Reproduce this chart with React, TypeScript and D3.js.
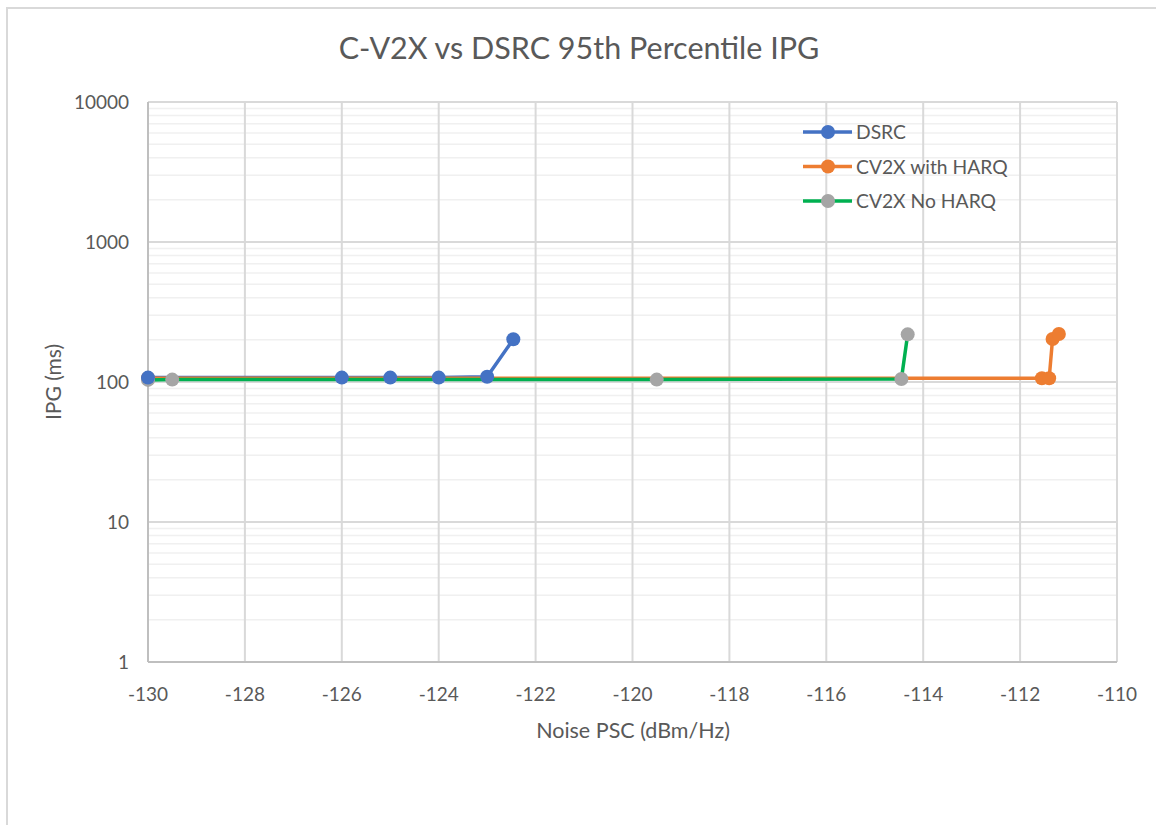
import React, { useEffect, useRef } from 'react';
import * as d3 from 'd3';

const W = 1156;
const H = 825;

const dsrcX = [-130, -126, -125, -124, -123, -122.46];
const dsrcY = [107.5, 107.5, 107.5, 107.5, 109, 202];

const harqX = [-130, -111.55, -111.4, -111.33, -111.2];
const harqY = [106.3, 106.3, 106.3, 203, 220];

const noHarqX = [-130, -129.5, -119.5, -114.45, -114.32];
const noHarqY = [103.5, 104, 104, 105, 219];

const xTicks = [-130, -128, -126, -124, -122, -120, -118, -116, -114, -112, -110];
const yTicks = [1, 10, 100, 1000, 10000];

const series = [
  { name: 'DSRC', xs: dsrcX, ys: dsrcY, line: '#4472C4', marker: '#4472C4' },
  { name: 'CV2X with HARQ', xs: harqX, ys: harqY, line: '#ED7D31', marker: '#ED7D31' },
  { name: 'CV2X No HARQ', xs: noHarqX, ys: noHarqY, line: '#00B050', marker: '#A5A5A5' },
];

const FONT = 'Lato, "Open Sans", sans-serif';
const TXT = '#595959';

const App = () => {
  const ref = useRef<SVGGElement>(null);

  useEffect(() => {
    const x = d3.scaleLinear().domain([-130, -110]).range([148, 1117]);
    const y = d3.scaleLog().domain([1, 10000]).range([662, 102]);

    const g = d3.select(ref.current);
    g.selectAll('*').remove();

    // minor horizontal grid
    const minor: number[] = [];
    for (let d = 1; d < 10000; d *= 10) {
      for (let k = 2; k <= 9; k++) minor.push(d * k);
    }
    g.append('g')
      .selectAll('line')
      .data(minor)
      .enter()
      .append('line')
      .attr('x1', x(-130))
      .attr('x2', x(-110))
      .attr('y1', (d) => y(d))
      .attr('y2', (d) => y(d))
      .attr('stroke', '#f0f0f0')
      .attr('stroke-width', 1.5);

    // major grid
    g.append('g')
      .selectAll('line')
      .data(yTicks.slice(1))
      .enter()
      .append('line')
      .attr('x1', x(-130))
      .attr('x2', x(-110))
      .attr('y1', (d) => y(d))
      .attr('y2', (d) => y(d))
      .attr('stroke', '#d9d9d9')
      .attr('stroke-width', 2);

    g.append('g')
      .selectAll('line')
      .data(xTicks.slice(1))
      .enter()
      .append('line')
      .attr('x1', (d) => x(d))
      .attr('x2', (d) => x(d))
      .attr('y1', y(1))
      .attr('y2', y(10000))
      .attr('stroke', '#d9d9d9')
      .attr('stroke-width', 2);

    // axis lines
    g.append('line')
      .attr('x1', x(-130)).attr('x2', x(-130))
      .attr('y1', y(1)).attr('y2', y(10000))
      .attr('stroke', '#bfbfbf').attr('stroke-width', 2);
    g.append('line')
      .attr('x1', x(-130)).attr('x2', x(-110))
      .attr('y1', y(1)).attr('y2', y(1))
      .attr('stroke', '#bfbfbf').attr('stroke-width', 2);

    // tick labels
    g.append('g')
      .selectAll('text')
      .data(yTicks)
      .enter()
      .append('text')
      .attr('x', 129)
      .attr('y', (d) => y(d) + 7)
      .attr('text-anchor', 'end')
      .attr('font-family', FONT)
      .attr('font-size', 19)
      .attr('fill', TXT)
      .text((d) => String(d));

    g.append('g')
      .selectAll('text')
      .data(xTicks)
      .enter()
      .append('text')
      .attr('x', (d) => x(d))
      .attr('y', 701)
      .attr('text-anchor', 'middle')
      .attr('font-family', FONT)
      .attr('font-size', 19)
      .attr('fill', TXT)
      .text((d) => String(d));

    // lines
    series.forEach((s) => {
      const pts = s.xs.map((v, i) => [x(v), y(s.ys[i])] as [number, number]);
      g.append('path')
        .attr('d', d3.line()(pts))
        .attr('fill', 'none')
        .attr('stroke', s.line)
        .attr('stroke-width', 3.5)
        .attr('stroke-linejoin', 'round');
    });

    // markers: orange, gray, then blue
    [series[1], series[2], series[0]].forEach((s) => {
      g.append('g')
        .selectAll('circle')
        .data(s.xs.map((v, i) => [v, s.ys[i]]))
        .enter()
        .append('circle')
        .attr('cx', (d) => x(d[0]))
        .attr('cy', (d) => y(d[1]))
        .attr('r', 7)
        .attr('fill', s.marker);
    });

    // legend
    const lg = g.append('g');
    series.forEach((s, i) => {
      const ly = 132 + i * 34.5;
      lg.append('line')
        .attr('x1', 803).attr('x2', 852)
        .attr('y1', ly).attr('y2', ly)
        .attr('stroke', s.line).attr('stroke-width', 3.5);
      lg.append('circle')
        .attr('cx', 828).attr('cy', ly).attr('r', 7)
        .attr('fill', s.marker);
      lg.append('text')
        .attr('x', 856).attr('y', ly + 7)
        .attr('font-family', FONT)
        .attr('font-size', 19.3)
        .attr('fill', TXT)
        .text(s.name);
    });
  }, []);

  return (
    <svg width={W} height={H} style={{ position: 'absolute', left: 0, top: 0 }}>
      <rect x={0} y={0} width={W} height={H} fill="#ffffff" />
      <rect x={7} y={8} width={W + 20} height={H + 20} fill="#ffffff" stroke="#d9d9d9" strokeWidth={2} />
      <text x={579} y={59} textAnchor="middle" fontFamily={FONT} fontSize={30.5} fill={TXT}>
        C-V2X vs DSRC 95th Percentile IPG
      </text>
      <text x={633} y={738} textAnchor="middle" fontFamily={FONT} fontSize={21.5} fill={TXT}>
        Noise PSC (dBm/Hz)
      </text>
      <text
        transform="translate(61 382) rotate(-90)"
        textAnchor="middle"
        fontFamily={FONT}
        fontSize={21}
        fill={TXT}
      >
        IPG (ms)
      </text>
      <g ref={ref} />
    </svg>
  );
};

export default App;
